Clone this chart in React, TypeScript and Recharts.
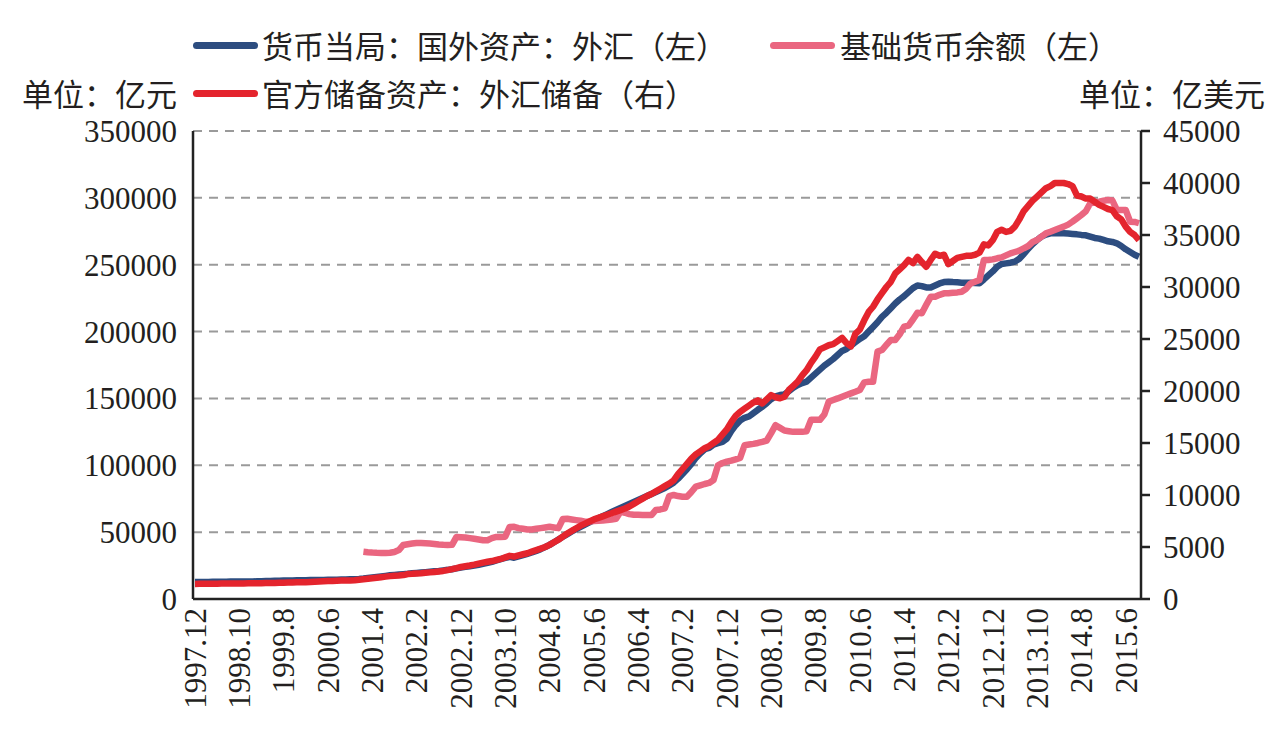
import { LineChart, Line, XAxis, YAxis, CartesianGrid } from "recharts";

// ===== DATA =====
// monthly, 1997.12 – 2015.9

// 货币当局：国外资产：外汇（亿元）
const fxAssets = [
  12650,
  12700, 12750, 12800, 12850, 12900, 12950, 12950, 13000, 13000, 13050, 13050, 13090,
  13150, 13200, 13300, 13400, 13500, 13600, 13700, 13800, 13850, 13900, 14000, 14060,
  14100, 14150, 14200, 14250, 14300, 14350, 14400, 14450, 14550, 14650, 14750, 14815,
  15000, 15300, 15700, 16100, 16500, 16900, 17300, 17700, 18000, 18300, 18600, 18850,
  19200, 19500, 19800, 20100, 20400, 20700, 21000, 21400, 21800, 22300, 22900, 23500,
  24000, 24500, 25000, 25600, 26300, 27000, 27800, 28800, 29800, 30700, 31500, 30900,
  31800, 32800, 33800, 34800, 36000, 37300, 38800, 40500, 42500, 44500, 46500, 48500,
  50500, 52300, 54000, 55700, 57300, 59000, 60500, 62000, 63500, 65000, 66500, 68000,
  69500, 71000, 72500, 74000, 75500, 77000, 78500, 80000, 81500, 83000, 85000, 87000,
  90000, 93500, 97000, 101000, 105500, 109000, 112000, 113000, 115500, 116500, 117500, 120000,
  125500, 130000, 133500, 135500, 136500, 139000, 141500, 143800, 146500, 149500, 151500, 152500,
  153000, 155500, 158000, 160000, 161500, 162500, 165500, 168500, 171500, 174500, 177000, 179500,
  182500, 185500, 187000, 189500, 192000, 194500, 196500, 200000, 203500, 207000, 211000, 214000,
  217500, 221000, 224000, 226500, 229500, 232500, 234500, 234000, 233000, 233000, 234500, 236000,
  237000, 237300, 237000, 236800, 236600, 236600, 236500, 236300, 236200, 239000, 242000, 245000,
  248500, 250500, 251000, 251500, 252300, 254500, 258000, 262000, 265500, 268500, 271000, 272500,
  273500, 273500, 273500, 273500, 273300, 273000, 272700, 272300, 272000, 271000, 270000, 269500,
  268500, 267500, 267000, 266000, 264000, 261500, 259500, 257500, 256000,
];

// 基础货币余额（亿元）
const baseMoney = [
  null,
  null, null, null, null, null, null, null, null, null, null, null, null,
  null, null, null, null, null, null, null, null, null, null, null, null,
  null, null, null, null, null, null, null, null, null, null, null, null,
  null, 35400, 35000, 34700, 34500, 34400, 34400, 34600, 35200, 36600, 40400, 41000,
  41500, 41900, 41900, 41700, 41500, 41200, 40800, 40500, 40400, 40500, 46400, 46200,
  46000, 45500, 45000, 44500, 44000, 44000, 45500, 46400, 46400, 46600, 53900, 54000,
  53000, 52500, 52000, 52000, 52500, 53000, 53500, 54000, 53500, 53000, 59800, 60000,
  59500, 59000, 58500, 57800, 58000, 58300, 58500, 58700, 59000, 59500, 60000, 65300,
  64500, 63500, 63000, 63000, 62800, 62800, 62800, 66600, 67000, 67800, 77000, 77800,
  77000, 76500, 76500, 80000, 84000, 85000, 86000, 86800, 89000, 100000, 101700, 102700,
  103500, 104500, 105500, 115000, 115500, 116000, 116700, 117500, 118500, 124000, 130000, 128000,
  126000, 125500, 125000, 125000, 125000, 125500, 134000, 134000, 134000, 138000, 147600, 148800,
  150000, 151300, 152600, 153800, 155000, 156300, 162000, 162500, 162500, 185000, 186200, 190000,
  193700, 193700, 198000, 203700, 204500, 209000, 214000, 213700, 220000, 226000, 226000, 227500,
  228600, 228600, 229000, 229300, 229800, 232000, 236000, 237300, 238600, 253500, 253500, 254000,
  254800, 255500, 257000, 258500, 259500, 260500, 262300, 264000, 267000, 268500, 271000, 273500,
  274700, 276000, 277300, 278500, 280000, 282200, 284700, 287200, 290000, 296000, 296500, 297100,
  297800, 298400, 298000, 291000, 291000, 291000, 282200, 282000, 281000,
];

// 官方储备资产：外汇储备（亿美元）
const fxReserves = [
  1450,
  1455, 1460, 1465, 1470, 1475, 1480, 1482, 1485, 1490, 1495, 1500, 1505,
  1510, 1515, 1520, 1530, 1540, 1550, 1560, 1570, 1580, 1590, 1600, 1610,
  1620, 1640, 1660, 1680, 1700, 1720, 1740, 1760, 1770, 1780, 1790, 1800,
  1850, 1900, 1950, 2000, 2050, 2100, 2150, 2200, 2230, 2260, 2300, 2400,
  2420, 2450, 2480, 2520, 2560, 2600, 2650, 2700, 2780, 2870, 2970, 3080,
  3150, 3220, 3300, 3400, 3500, 3580, 3650, 3750, 3850, 4000, 4150, 4080,
  4200, 4300, 4400, 4550, 4700, 4850, 5000, 5200, 5450, 5700, 6000, 6300,
  6550, 6800, 7050, 7250, 7450, 7650, 7800, 7950, 8100, 8250, 8400, 8550,
  8700, 8900, 9150, 9400, 9650, 9900, 10100, 10350, 10600, 10850, 11100, 11400,
  12000, 12500, 13000, 13500, 13900, 14200, 14500, 14700, 15000, 15300, 15800, 16300,
  17000, 17600, 18000, 18300, 18600, 18900, 19100, 18800, 19200, 19600, 19400, 19300,
  19450, 20100, 20500, 20900, 21500, 22000, 22700, 23300, 24000, 24200, 24400, 24500,
  24800, 25100, 24600, 24300, 25500, 25900, 26800, 27600, 28100, 28800, 29400, 30000,
  30500, 31300, 31700, 32100, 32600, 32300, 32900, 32400, 31950, 32600, 33200, 33000,
  33100, 32200, 32500, 32800, 32900, 33000, 33000, 33100, 33300, 34100, 34000, 34500,
  35300, 35500, 35300, 35400, 35800, 36500, 37300, 37800, 38300, 38700, 39100, 39500,
  39700, 40000, 40000, 40000, 39900, 39700, 38800, 38700, 38500, 38500, 38200, 37900,
  37700, 37500, 37400, 36800, 36500, 35800, 35300, 35000, 34500,
];

const leftTicks = [0, 50000, 100000, 150000, 200000, 250000, 300000, 350000];
const rightTicks = [0, 5000, 10000, 15000, 20000, 25000, 30000, 35000, 40000, 45000];

// month labels "YYYY.M"
const months: string[] = [];
for (let y = 1997, m = 12; months.length < fxAssets.length; m++) {
  if (m > 12) {
    m = 1;
    y++;
  }
  months.push(`${y}.${m}`);
}

const chartData = months.map((month, i) => ({
  month,
  fx: fxAssets[i],
  base: baseMoney[i],
  reserve: fxReserves[i],
}));

// ===== STYLE =====
const BLUE = "#2d4d80";
const PINK = "#ea6680";
const RED = "#e4242d";
const TEXT = "#231f20";
const NUM_FONT = "'Liberation Serif', 'Times New Roman', serif";
const CJK_FONT = "'Noto Sans CJK SC', 'Noto Sans', sans-serif";

const XTick = ({ x, y, payload }: any) => (
  <text
    x={x}
    y={y}
    transform={`rotate(-90, ${x}, ${y})`}
    textAnchor="end"
    dy="0.35em"
    fill={TEXT}
    fontSize={31}
    fontFamily={NUM_FONT}
  >
    {payload.value}
  </text>
);

const Swatch = ({ left, top, color }: { left: number; top: number; color: string }) => (
  <div
    style={{
      position: "absolute",
      left,
      top: top - 3.5,
      width: 65,
      height: 7,
      borderRadius: 4,
      background: color,
    }}
  />
);

const Label = ({ left, right, top, children }: any) => (
  <div
    style={{
      position: "absolute",
      left,
      right,
      top: top - 20,
      height: 40,
      lineHeight: "40px",
      fontSize: 31,
      fontFamily: CJK_FONT,
      color: TEXT,
      whiteSpace: "nowrap",
    }}
  >
    {children}
  </div>
);

export default function App() {
  return (
    <div
      style={{
        position: "absolute",
        left: 0,
        top: 0,
        width: 1272,
        height: 731,
        background: "#fff",
        overflow: "hidden",
      }}
    >
      {/* legend + units */}
      <Swatch left={193} top={45} color={BLUE} />
      <Label left={262} top={45}>货币当局：国外资产：外汇（左）</Label>
      <Swatch left={770} top={45} color={PINK} />
      <Label left={840} top={45}>基础货币余额（左）</Label>
      <Label left={22} top={93}>单位：亿元</Label>
      <Swatch left={193} top={93} color={RED} />
      <Label left={262} top={93}>官方储备资产：外汇储备（右）</Label>
      <Label right={7} top={93}>单位：亿美元</Label>

      <LineChart
        width={1272}
        height={731}
        data={chartData}
        margin={{ top: 131, right: 31, bottom: 22, left: 93 }}
        style={{ position: "absolute", left: 0, top: 0 }}
      >
        <CartesianGrid
          yAxisId="left"
          vertical={false}
          stroke="#9a9a9a"
          strokeWidth={2}
          strokeDasharray="9 7"
        />
        <XAxis
          dataKey="month"
          interval={9}
          tickLine={false}
          tickSize={0}
          tickMargin={9}
          height={110}
          padding={{ left: 2, right: 2 }}
          axisLine={{ stroke: "#222", strokeWidth: 2.5 }}
          tick={<XTick />}
        />
        <YAxis
          yAxisId="left"
          orientation="left"
          width={100}
          domain={[0, 350000]}
          ticks={leftTicks}
          interval={0}
          tickLine={false}
          tickSize={0}
          tickMargin={16}
          axisLine={{ stroke: "#222", strokeWidth: 2.5 }}
          tick={{ fill: TEXT, fontSize: 31, fontFamily: NUM_FONT }}
        />
        <YAxis
          yAxisId="right"
          orientation="right"
          width={100}
          domain={[0, 45000]}
          ticks={rightTicks}
          interval={0}
          tickSize={9}
          tickMargin={13}
          tickLine={{ stroke: "#222", strokeWidth: 2.5 }}
          axisLine={{ stroke: "#222", strokeWidth: 2.5 }}
          tick={{ fill: TEXT, fontSize: 31, fontFamily: NUM_FONT }}
        />
        <Line
          yAxisId="left"
          dataKey="fx"
          stroke={BLUE}
          strokeWidth={6.5}
          strokeLinejoin="round"
          dot={false}
          activeDot={false}
          isAnimationActive={false}
        />
        <Line
          yAxisId="left"
          dataKey="base"
          stroke={PINK}
          strokeWidth={6.5}
          strokeLinejoin="round"
          dot={false}
          activeDot={false}
          isAnimationActive={false}
        />
        <Line
          yAxisId="right"
          dataKey="reserve"
          stroke={RED}
          strokeWidth={6.5}
          strokeLinejoin="round"
          dot={false}
          activeDot={false}
          isAnimationActive={false}
        />
      </LineChart>
    </div>
  );
}
